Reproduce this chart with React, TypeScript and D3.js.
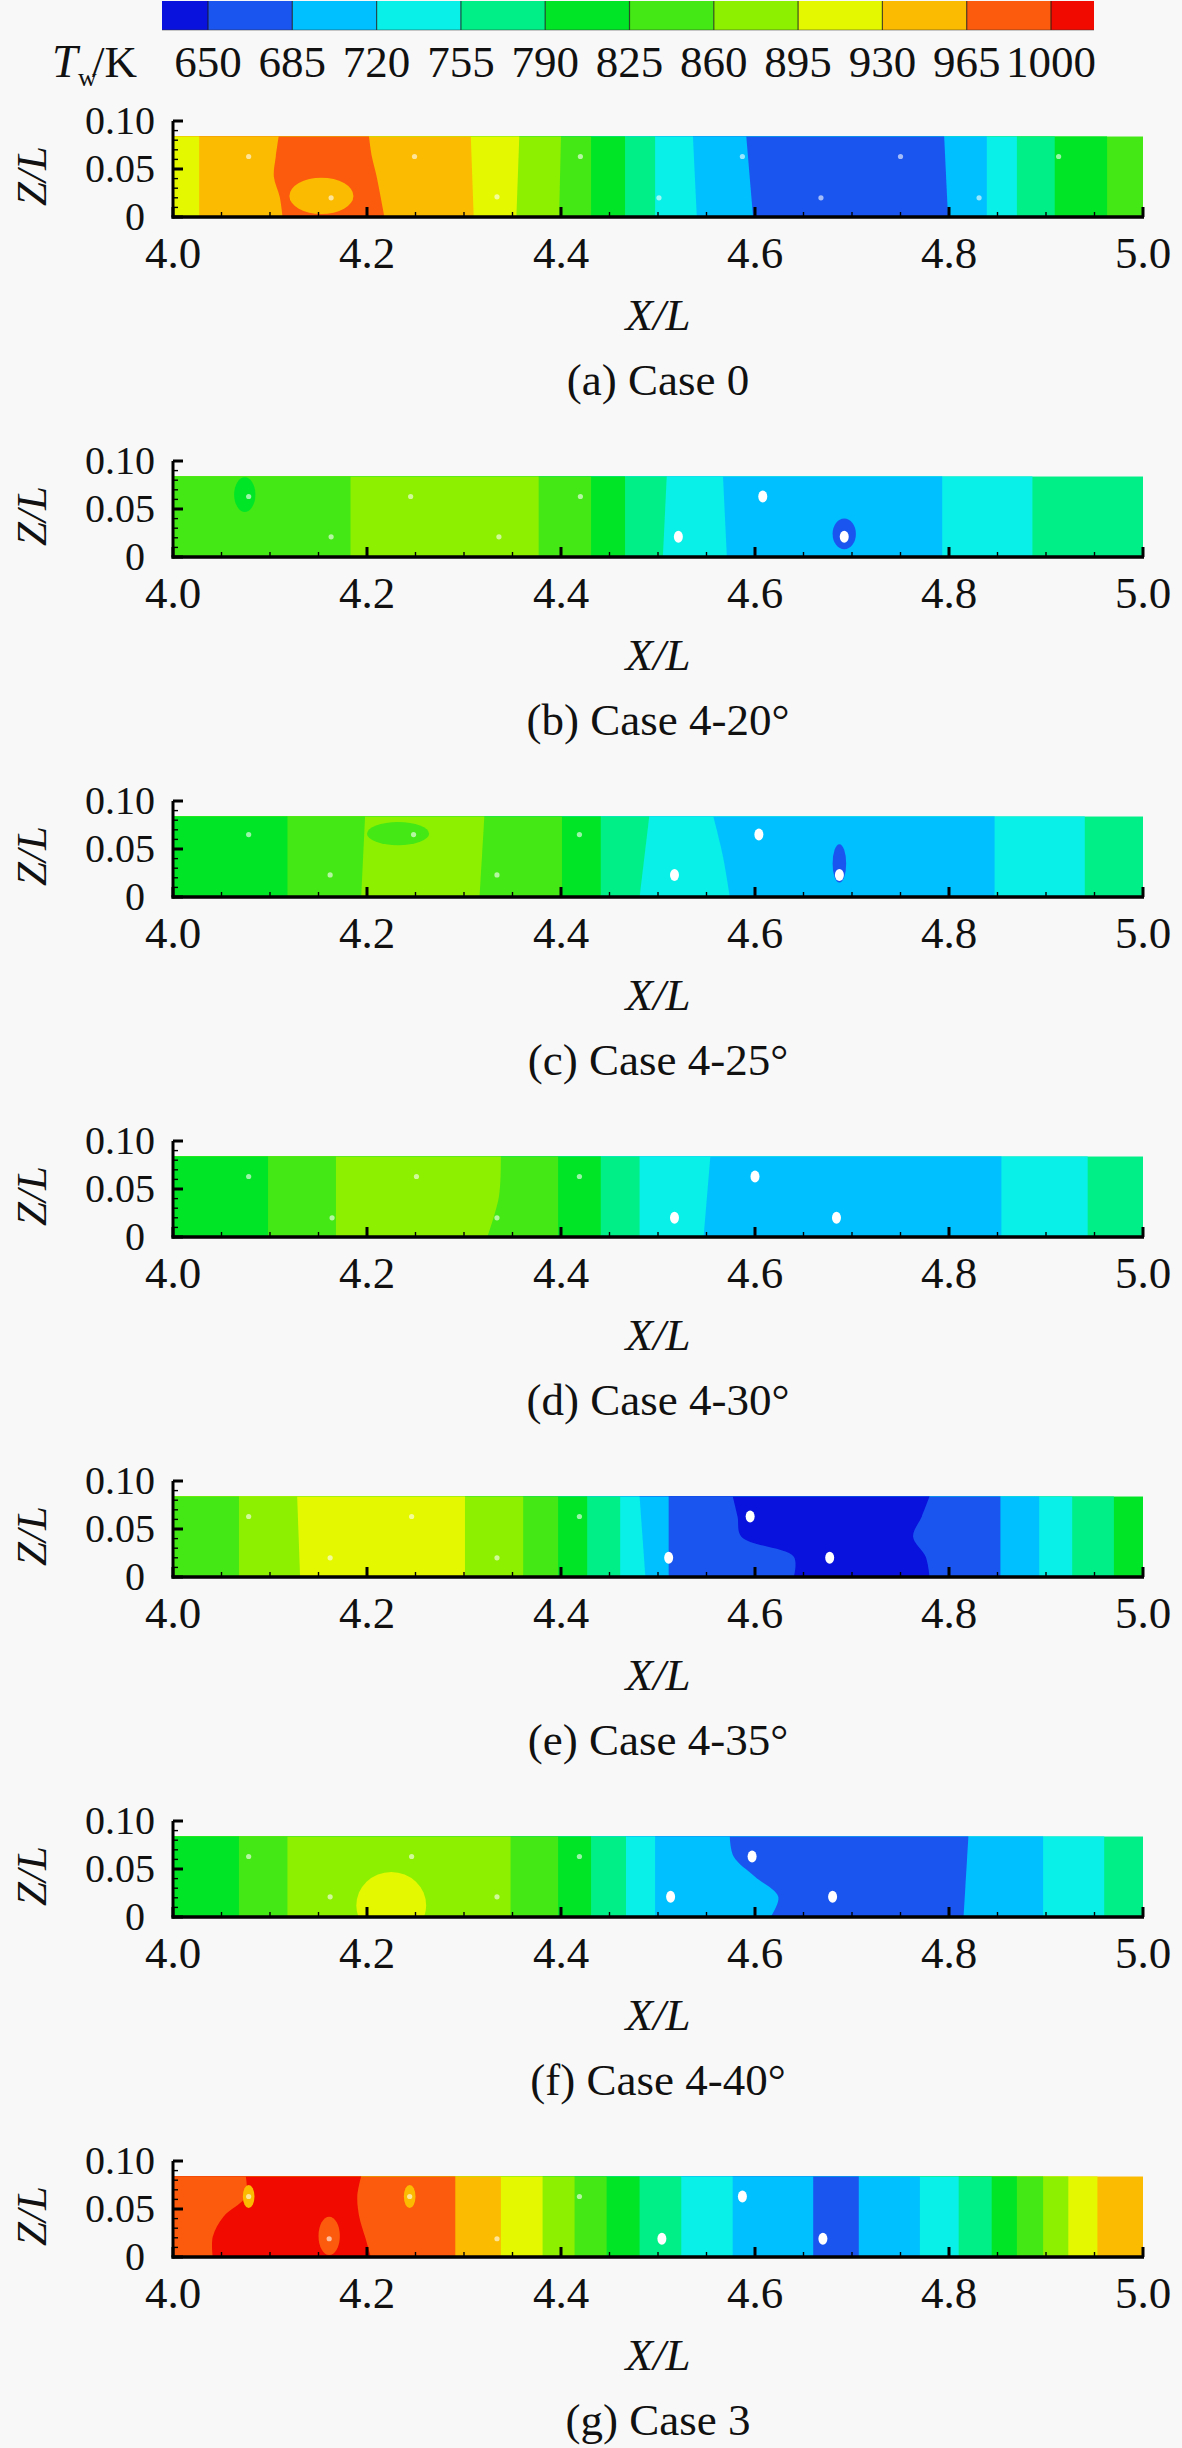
import * as d3 from 'd3';

// Tw/K contour levels and the colour of each band (below 650 ... above 1000)
const levelTicks = [650, 685, 720, 755, 790, 825, 860, 895, 930, 965, 1000];
const levelColors = [
  '#0812dc', '#1a55f0', '#00c0ff', '#08f0e8', '#00ef86', '#00e626',
  '#44e814', '#8cf000', '#e4f800', '#fbbb00', '#fc5a0c', '#f00a00',
];

const xTicks = [4.0, 4.2, 4.4, 4.6, 4.8, 5.0];
const zTicks = [0, 0.05, 0.1];
const FIELD_TOP = 0.084; // Z/L reached by the coloured field

const captions = [
  '(a) Case 0', '(b) Case 4-20°', '(c) Case 4-25°', '(d) Case 4-30°',
  '(e) Case 4-35°', '(f) Case 4-40°', '(g) Case 3',
];

// Each case: band temperatures (K) left to right, the X/L of each band edge
// (one value = vertical, several = from top of field down to Z/L = 0),
// local spots [X/L, Z/L, halfwidth X/L, halfheight Z/L, K] and film holes [X/L, Z/L, large]

// (a) Case 0
const case0Levels = [912, 947, 982, 947, 912, 877, 842, 807, 772, 737, 702, 667, 702, 737, 772, 807, 842];
const case0Edges = [
  [4.027], [4.109, 4.106, 4.104, 4.110, 4.113], [4.202, 4.205, 4.210, 4.214, 4.218],
  [4.307, 4.310], [4.357, 4.354], [4.400, 4.398], [4.431], [4.466], [4.497],
  [4.536, 4.540], [4.591, 4.598], [4.795, 4.799], [4.839], [4.870], [4.909], [4.963],
];
const case0Spots = [[4.153, 0.022, 0.033, 0.019, 947]];
const case0Holes = [
  [4.078, 0.063, 0], [4.249, 0.063, 0], [4.42, 0.063, 0], [4.587, 0.063, 0], [4.75, 0.063, 0], [4.913, 0.063, 0],
  [4.163, 0.02, 0], [4.334, 0.021, 0], [4.501, 0.02, 0], [4.668, 0.02, 0], [4.831, 0.02, 0],
];

// (b) Case 4-20°
const case420Levels = [842, 877, 842, 807, 772, 737, 702, 737, 772];
const case420Edges = [[4.183], [4.377], [4.431], [4.466], [4.509, 4.505], [4.567, 4.571], [4.793], [4.886]];
const case420Spots = [[4.074, 0.065, 0.011, 0.018, 807], [4.692, 0.024, 0.012, 0.016, 667]];
const case420Holes = [
  [4.078, 0.063, 0], [4.245, 0.063, 0], [4.42, 0.063, 0], [4.608, 0.063, 1],
  [4.163, 0.021, 0], [4.336, 0.021, 0], [4.521, 0.021, 1], [4.692, 0.021, 1],
];

// (c) Case 4-25°
const case425Levels = [807, 842, 877, 842, 807, 772, 737, 702, 737, 772];
const case425Edges = [
  [4.118], [4.198, 4.194], [4.321, 4.316], [4.401], [4.441], [4.491, 4.481],
  [4.557, 4.567, 4.574], [4.847], [4.940],
];
const case425Spots = [[4.232, 0.066, 0.032, 0.012, 842], [4.687, 0.035, 0.007, 0.02, 667]];
const case425Holes = [
  [4.078, 0.065, 0], [4.248, 0.065, 0], [4.419, 0.065, 0], [4.604, 0.065, 1],
  [4.162, 0.023, 0], [4.334, 0.023, 0], [4.517, 0.023, 1], [4.687, 0.023, 1],
];

// (d) Case 4-30°
const case430Levels = [807, 842, 877, 842, 807, 772, 737, 702, 737, 772];
const case430Edges = [
  [4.098], [4.168], [4.338, 4.336, 4.324], [4.397], [4.441], [4.481],
  [4.554, 4.547], [4.854], [4.943],
];
const case430Spots: number[][] = [];
const case430Holes = [
  [4.078, 0.063, 0], [4.251, 0.063, 0], [4.419, 0.063, 0], [4.60, 0.063, 1],
  [4.164, 0.02, 0], [4.334, 0.02, 0], [4.517, 0.02, 1], [4.684, 0.02, 1],
];

// (e) Case 4-35°
const case435Levels = [842, 877, 912, 877, 842, 807, 772, 737, 702, 667, 632, 667, 702, 737, 772, 807];
const case435Edges = [
  [4.068], [4.128, 4.131], [4.301], [4.361], [4.397], [4.427], [4.461], [4.481, 4.487], [4.511],
  [4.577, 4.582, 4.586, 4.640, 4.640], [4.780, 4.772, 4.763, 4.776, 4.780],
  [4.853], [4.893], [4.927], [4.970],
];
const case435Spots: number[][] = [];
const case435Holes = [
  [4.078, 0.063, 0], [4.246, 0.063, 0], [4.419, 0.063, 0], [4.595, 0.063, 1],
  [4.162, 0.02, 0], [4.334, 0.02, 0], [4.511, 0.02, 1], [4.677, 0.02, 1],
];

// (f) Case 4-40°
const case440Levels = [807, 842, 877, 842, 807, 772, 737, 702, 667, 702, 737, 772];
const case440Edges = [
  [4.068], [4.118], [4.348], [4.397], [4.431], [4.467], [4.497],
  [4.574, 4.578, 4.600, 4.624, 4.616], [4.820, 4.815], [4.897], [4.960],
];
const case440Spots = [[4.225, 0.012, 0.036, 0.035, 912]];
const case440Holes = [
  [4.078, 0.063, 0], [4.246, 0.063, 0], [4.419, 0.063, 0], [4.597, 0.063, 1],
  [4.162, 0.021, 0], [4.334, 0.021, 0], [4.513, 0.021, 1], [4.68, 0.021, 1],
];

// (g) Case 3
const case3Levels = [982, 1017, 982, 947, 912, 877, 842, 807, 772, 737, 702, 667, 702, 737, 772, 807, 842, 877, 912, 947];
const case3Edges = [
  [4.075, 4.075, 4.052, 4.041, 4.041], [4.194, 4.190, 4.192, 4.198, 4.204],
  [4.291], [4.338], [4.381], [4.414], [4.447], [4.481], [4.524], [4.577], [4.660], [4.707],
  [4.770], [4.810], [4.844], [4.870], [4.897], [4.923], [4.953],
];
const case3Spots = [
  [4.161, 0.022, 0.011, 0.02, 982], [4.244, 0.063, 0.006, 0.012, 947], [4.078, 0.063, 0.006, 0.012, 947],
];
const case3Holes = [
  [4.078, 0.063, 0], [4.244, 0.063, 0], [4.419, 0.063, 0], [4.587, 0.063, 1],
  [4.161, 0.019, 0], [4.334, 0.019, 0], [4.504, 0.019, 1], [4.67, 0.019, 1],
];

const panels = [
  { levels: case0Levels, edges: case0Edges, spots: case0Spots, holes: case0Holes },
  { levels: case420Levels, edges: case420Edges, spots: case420Spots, holes: case420Holes },
  { levels: case425Levels, edges: case425Edges, spots: case425Spots, holes: case425Holes },
  { levels: case430Levels, edges: case430Edges, spots: case430Spots, holes: case430Holes },
  { levels: case435Levels, edges: case435Edges, spots: case435Spots, holes: case435Holes },
  { levels: case440Levels, edges: case440Edges, spots: case440Spots, holes: case440Holes },
  { levels: case3Levels, edges: case3Edges, spots: case3Spots, holes: case3Holes },
].map((p, i) => ({ ...p, caption: captions[i] }));

const FONT = '"Liberation Serif", "DejaVu Serif", "Times New Roman", serif';
const textStyle = { fontFamily: FONT };
const W = 1182;
const H = 2448;
const PANEL_STEP = 340;

const color = d3.scaleThreshold<number, string>().domain(levelTicks).range(levelColors);

function ColorBar() {
  const cb = d3.scaleLinear().domain([650, 1000]).range([208, 1051]);
  const ends = [cb(650) - 46, cb(1000) + 43];
  const bounds = [ends[0], ...levelTicks.map(t => cb(t)), ends[1]];
  return (
    <g>
      {levelColors.map((c, i) => (
        <rect key={i} x={bounds[i]} y={1} width={bounds[i + 1] - bounds[i]} height={29} fill={c} />
      ))}
      {levelTicks.map(t => (
        <line key={t} x1={cb(t)} x2={cb(t)} y1={1} y2={30} stroke="#1a1a1a" strokeWidth={1.2} opacity={0.75} />
      ))}
      <line x1={ends[0]} x2={ends[1]} y1={30} y2={30} stroke="#333" strokeWidth={1} opacity={0.5} />
      {levelTicks.map(t => (
        <text key={t} x={cb(t)} y={77} fontSize={45} textAnchor="middle" style={textStyle} fill="#111">{t}</text>
      ))}
      <text x={52} y={77} fontSize={46} fontStyle="italic" style={textStyle} fill="#111">T</text>
      <text x={78} y={86} fontSize={26} style={textStyle} fill="#111">w</text>
      <text x={92} y={77} fontSize={45} style={textStyle} fill="#111">/K</text>
    </g>
  );
}

function Panel({ p, k }: { p: any; k: number }) {
  const x = d3.scaleLinear().domain([4, 5]).range([173, 1143]);
  const y = d3.scaleLinear().domain([0, 0.1]).range([217 + PANEL_STEP * k, 121 + PANEL_STEP * k]);
  const edgePts = (e: number[]) =>
    e.length === 1
      ? [[e[0], FIELD_TOP], [e[0], 0]]
      : e.map((v, j) => [v, FIELD_TOP * (1 - j / (e.length - 1))]);
  const area = d3.area<number[]>()
    .y(d => y(d[1]))
    .x0(x(4))
    .x1(d => x(d[0]))
    .curve(d3.curveCatmullRom.alpha(0.5));
  const clipId = `field-${k}`;
  const last = p.levels.length - 1;
  const xMinor = d3.range(4, 5.0001, 0.05);
  const zMinor = d3.range(0, 0.1001, 0.01);
  const y0 = y(0);
  const fmtZ = (z: number) => (z === 0 ? '0' : d3.format('.2f')(z));

  return (
    <g>
      <defs>
        <clipPath id={clipId}>
          <rect x={x(4)} y={y(FIELD_TOP)} width={x(5) - x(4)} height={y(0) - y(FIELD_TOP)} />
        </clipPath>
      </defs>
      <g clipPath={`url(#${clipId})`}>
        <rect x={x(4)} y={y(FIELD_TOP)} width={x(5) - x(4)} height={y(0) - y(FIELD_TOP)} fill={color(p.levels[last])} />
        {p.edges.map((e: number[], i: number) => ({ e, i })).reverse().map(({ e, i }: any) => (
          <path key={i} d={area(edgePts(e) as any) || ''} fill={color(p.levels[i])} />
        ))}
        {p.spots.map((s: number[], i: number) => (
          <ellipse key={i} cx={x(s[0])} cy={y(s[1])} rx={x(4 + s[2]) - x(4)} ry={y(0) - y(s[3])} fill={color(s[4])} />
        ))}
        {p.holes.map((h: number[], i: number) =>
          h[2] ? (
            <ellipse key={i} cx={x(h[0])} cy={y(h[1])} rx={4.5} ry={6} fill="#ffffff" />
          ) : (
            <circle key={i} cx={x(h[0])} cy={y(h[1])} r={2.6} fill="#ffffff" opacity={0.6} />
          )
        )}
      </g>

      {/* left axis */}
      <line x1={x(4)} x2={x(4)} y1={y(0) + 1.5} y2={y(0.1)} stroke="#000" strokeWidth={3} />
      {zMinor.map((z, i) => (
        <line key={i} x1={x(4)} x2={x(4) + 5} y1={y(z)} y2={y(z)} stroke="#000" strokeWidth={1.4} />
      ))}
      {zTicks.map(z => (
        <line key={z} x1={x(4)} x2={x(4) + 10} y1={y(z)} y2={y(z)} stroke="#000" strokeWidth={3} />
      ))}
      {zTicks.map(z => (
        <text key={z} x={z === 0 ? 145 : 155} y={y(z) + 13} fontSize={40} textAnchor="end" style={textStyle} fill="#111">{fmtZ(z)}</text>
      ))}
      <text transform={`translate(46, ${y(0.05) + 7}) rotate(-90)`} fontSize={43} fontStyle="italic" textAnchor="middle" style={textStyle} fill="#111">Z/L</text>

      {/* bottom axis */}
      <line x1={x(4) - 1.5} x2={x(5) + 1} y1={y0} y2={y0} stroke="#000" strokeWidth={3.5} />
      {xMinor.map((v, i) => (
        <line key={i} x1={x(v)} x2={x(v)} y1={y0} y2={y0 - 5} stroke="#000" strokeWidth={1.4} />
      ))}
      {xTicks.map(v => (
        <line key={v} x1={x(v)} x2={x(v)} y1={y0} y2={y0 - 10} stroke="#000" strokeWidth={3} />
      ))}
      {xTicks.map(v => (
        <text key={v} x={x(v)} y={y0 + 51} fontSize={45} textAnchor="middle" style={textStyle} fill="#111">{d3.format('.1f')(v)}</text>
      ))}
      <text x={(x(4) + x(5)) / 2} y={y0 + 113} fontSize={45} fontStyle="italic" textAnchor="middle" style={textStyle} fill="#111">X/L</text>
      <text x={(x(4) + x(5)) / 2} y={y0 + 178} fontSize={45} textAnchor="middle" style={textStyle} fill="#111">{p.caption}</text>
    </g>
  );
}

export default function App() {
  return (
    <svg
      width={W}
      height={H}
      viewBox={`0 0 ${W} ${H}`}
      style={{ position: 'absolute', left: 0, top: 0, display: 'block' }}
    >
      <rect width={W} height={H} fill="#f8f8f8" />
      <ColorBar />
      {panels.map((p, k) => (
        <Panel key={k} p={p} k={k} />
      ))}
    </svg>
  );
}
